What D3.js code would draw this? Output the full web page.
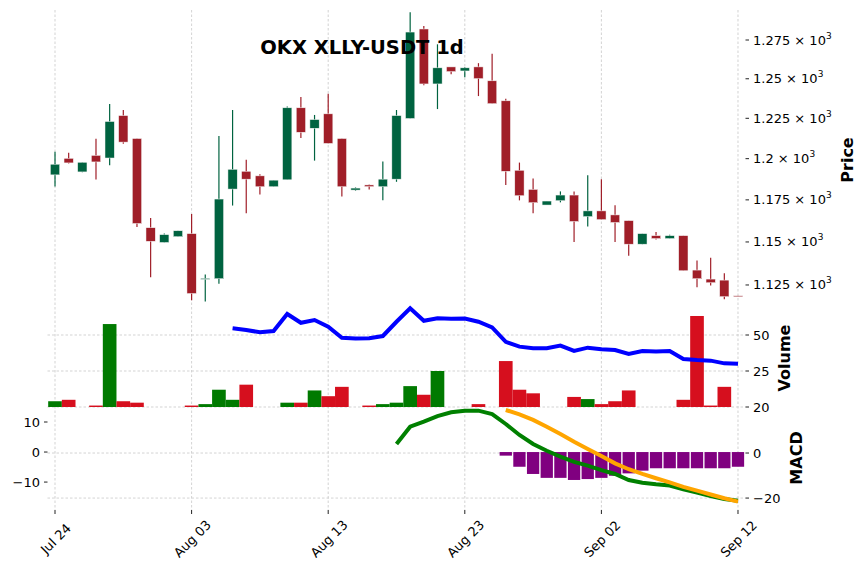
<!DOCTYPE html><html><head><meta charset="utf-8"><script src="https://d3js.org/d3.v7.min.js"></script>
<style>body{margin:0;background:#fff}text{font-family:"DejaVu Sans",sans-serif}</style></head><body><svg id="c" width="866" height="570"></svg>
<script>
const dates = d3.range(51).map(i => new Date(2024, 6, 24 + i));
const opens  = [1190.1,1200.2,1191.9,1202,1200.4,1226.7,1212.4,1158.4,1149.7,1153.1,1154.9,1128.6,1128.6,1181.5,1192.3,1189.5,1182.9,1187.1,1231.6,1218.8,1227.8,1212.4,1180.9,1184,1182.9,1187.5,1224.9,1282.2,1246.7,1257.6,1255,1257.6,1248.7,1236,1192.9,1181.3,1171.9,1174.5,1177.9,1165,1168.4,1166,1162.6,1148.7,1153.7,1152,1153.7,1133.6,1128.4,1127.8,1118.8];
const highs  = [1204.3,1203.7,1198,1212.2,1234,1230.2,1212.4,1164.1,1155,1156.6,1166.6,1131.1,1214,1230.2,1199.4,1190.5,1186.9,1232.4,1238.4,1227.1,1240.4,1212.4,1182.5,1184.2,1198.2,1230.2,1293.2,1284.2,1272.2,1257.6,1257.6,1260,1266,1237.3,1197.6,1187.9,1174.3,1180.1,1180.1,1189.9,1187.5,1171.8,1162.6,1154.9,1155.8,1154.3,1153.7,1139.1,1140.8,1131.7,1118.8];
const lows   = [1183.1,1197,1191.7,1187.3,1196,1209.2,1158.8,1129.4,1149.7,1153.1,1116.3,1115.6,1125.7,1171.6,1167,1178.3,1182.9,1187.1,1212.8,1198.8,1209.4,1177.1,1180.5,1181.3,1174.7,1185.9,1224.9,1245.9,1230.8,1252.9,1251,1239,1234.2,1183.9,1174.7,1167,1171.9,1173.5,1150,1159.1,1163.2,1150,1141.9,1148.7,1151.4,1152,1133.2,1123.7,1124.7,1116.8,1118.5];
const closes = [1196.6,1197.4,1197.8,1198,1223,1210.2,1160.9,1150.4,1154.3,1156.6,1120.1,1128.8,1175.5,1193.5,1187.5,1182.9,1186.9,1231.6,1216.3,1224.2,1209.4,1182.9,1182.1,1183,1187.5,1226.7,1280.2,1246.7,1257,1254.6,1257,1250.1,1234.2,1192.3,1177.5,1173.3,1174.3,1177.9,1162.1,1168.4,1163.2,1161.5,1148.7,1154.9,1152,1153.7,1133.2,1128.6,1126.3,1118.3,1118.5];
const volumes = [20.8,21,null,20.2,57.6,20.8,20.6,null,null,null,20.2,20.4,22.4,21,23.1,null,null,20.6,20.6,22.3,21.5,22.8,null,20.2,20.4,20.6,22.9,21.7,25,null,null,20.4,null,31.9,22.4,21.9,null,null,21.4,21.1,20.4,20.8,22.3,null,null,null,21,63.2,20.2,22.8,null];
const volMA = [null,null,null,null,null,null,null,null,null,null,null,null,null,54.7,53.5,51.9,52.8,64.6,58.5,60.4,55.8,48.1,47.6,47.8,49.3,59.2,68.5,59.9,61.6,61.2,61.4,59.2,55.3,45.3,41.9,40.8,40.8,42.6,38.9,41.2,40.1,39.6,36.8,38.9,38.5,38.9,33.3,32.6,32.2,30.3,30.1];
const macd = [null,null,null,null,null,null,null,null,null,null,null,null,null,null,null,null,null,null,null,null,null,null,null,null,null,4,11.7,13.9,16.4,18.1,18.8,18.8,17.3,12.9,8,4,1,-1.6,-3.9,-5.6,-7.6,-9.3,-12,-13.2,-13.9,-14.4,-16.1,-17.6,-19.1,-20.4,-21.2];
const signal = [null,null,null,null,null,null,null,null,null,null,null,null,null,null,null,null,null,null,null,null,null,null,null,null,null,null,null,null,null,null,null,null,null,19.1,17.2,14.7,11.7,8.4,5,1.8,-1.3,-4.6,-7.2,-9.3,-11.2,-13,-15,-16.7,-18.4,-20.1,-21.6];
const hist = [null,null,null,null,null,null,null,null,null,null,null,null,null,null,null,null,null,null,null,null,null,null,null,null,null,null,null,null,null,null,null,null,null,-1.2,-4.9,-7.3,-8.6,-8.6,-9.3,-9,-8.6,-7.9,-7.1,-6.2,-5.4,-5.4,-5.4,-5.4,-5.4,-5.4,-4.9];
const priceTicks = [1125,1150,1175,1200,1225,1250,1275];
const volTicks = [20,25,50];
const macdLeftTicks = [-10,0,10];
const macdRightTicks = [-20,0];
const xTickIdx = [0,10,20,30,40,50];

const svg = d3.select("#c");
const x = d3.scaleLinear().domain([-0.55,50.55]).range([47.5,745.5]);
const step = x(1)-x(0);
const yP = d3.scaleLog().domain([1116.4,1294.7]).range([300,10]);
const yV = d3.scaleLinear().domain([20,25,50,75]).range([407,371,335,299]);
const yML = d3.scaleLinear().domain([-19.3,14]).range([510,410]);
const yMR = d3.scaleLinear().domain([-25.3,19.1]).range([510,410]);
const fmt = d3.timeFormat("%b %d");
const gridC = "#c8c8c8";

xTickIdx.forEach(i=>{
  svg.append("line").attr("x1",x(i)).attr("x2",x(i)).attr("y1",10).attr("y2",510)
    .attr("stroke",gridC).attr("stroke-width",0.8).attr("stroke-dasharray","2.5,2");
});
volTicks.forEach(v=>svg.append("line").attr("x1",47.5).attr("x2",745.5).attr("y1",yV(v)).attr("y2",yV(v)).attr("stroke",gridC).attr("stroke-width",0.8).attr("stroke-dasharray","2.5,2"));
macdRightTicks.forEach(v=>svg.append("line").attr("x1",47.5).attr("x2",745.5).attr("y1",yMR(v)).attr("y2",yMR(v)).attr("stroke",gridC).attr("stroke-width",0.8).attr("stroke-dasharray","2.5,2"));

const up="#006340", dn="#a01e28";
dates.forEach((d,i)=>{
  const c = closes[i]>=opens[i]?up:dn;
  svg.append("line").attr("x1",x(i)).attr("x2",x(i)).attr("y1",yP(highs[i])).attr("y2",yP(lows[i])).attr("stroke",c).attr("stroke-width",1.2);
  const t=yP(Math.max(opens[i],closes[i])), b=yP(Math.min(opens[i],closes[i]));
  svg.append("rect").attr("x",x(i)-step*0.34).attr("width",step*0.68).attr("y",t).attr("height",Math.max(b-t,1)).attr("fill",c).attr("stroke","#f4f4f4").attr("stroke-width",0.5);
});

volumes.forEach((v,i)=>{
  if(v==null) return;
  const c = closes[i]>=opens[i]?"#007a00":"#d60f1e";
  svg.append("rect").attr("x",x(i)-step/2).attr("width",step).attr("y",yV(v)).attr("height",407-yV(v)).attr("fill",c);
});
const ln = (ys)=>d3.line().defined(d=>d!=null).x((d,i)=>x(i)).y(d=>ys(d));
svg.append("path").attr("d",ln(yV)(volMA)).attr("fill","none").attr("stroke","#0000ff").attr("stroke-width",4);

hist.forEach((v,i)=>{
  if(v==null) return;
  svg.append("rect").attr("x",x(i)-step*0.45).attr("width",step*0.9).attr("y",yML(Math.max(0,v))).attr("height",Math.abs(yML(v)-yML(0))).attr("fill","purple");
});
svg.append("path").attr("d",ln(yMR)(macd)).attr("fill","none").attr("stroke","green").attr("stroke-width",4);
svg.append("path").attr("d",ln(yMR)(signal)).attr("fill","none").attr("stroke","orange").attr("stroke-width",4);

priceTicks.forEach(v=>{
  const y=yP(v);
  svg.append("line").attr("x1",745.5).attr("x2",749).attr("y1",y).attr("y2",y).attr("stroke","#222");
  const t=svg.append("text").attr("x",753).attr("y",y+4.5).attr("font-size",13);
  t.append("tspan").text(d3.format(".3~f")(v/1000)+" × 10");
  t.append("tspan").attr("dy",-6).attr("font-size",9).text("3");
});
volTicks.forEach(v=>{
  const y=yV(v);
  svg.append("line").attr("x1",745.5).attr("x2",749).attr("y1",y).attr("y2",y).attr("stroke","#222");
  svg.append("text").attr("x",753).attr("y",y+4.5).attr("font-size",13).text(v);
});
macdRightTicks.forEach(v=>{
  const y=yMR(v);
  svg.append("line").attr("x1",745.5).attr("x2",749).attr("y1",y).attr("y2",y).attr("stroke","#222");
  svg.append("text").attr("x",753).attr("y",y+4.5).attr("font-size",13).text(v<0?"−"+(-v):v);
});
macdLeftTicks.forEach(v=>{
  const y=yML(v);
  svg.append("line").attr("x1",44).attr("x2",47.5).attr("y1",y).attr("y2",y).attr("stroke","#222");
  svg.append("text").attr("x",40).attr("y",y+4.5).attr("font-size",13).attr("text-anchor","end").text(v<0?"−"+(-v):v);
});
xTickIdx.forEach(i=>{
  svg.append("line").attr("x1",x(i)).attr("x2",x(i)).attr("y1",510).attr("y2",514).attr("stroke","#222");
  svg.append("text").attr("font-size",13).attr("text-anchor","middle")
    .attr("transform",`translate(${x(i)+4},${542}) rotate(-45)`).text(fmt(dates[i]));
});
const lab=(t,cx,cy)=>svg.append("text").attr("transform",`translate(${cx},${cy}) rotate(-90)`).attr("text-anchor","middle").attr("font-size",16).attr("font-weight","bold").text(t);
lab("Price",853,160); lab("Volume",790,358); lab("MACD",802,458);
svg.append("text").attr("x",362).attr("y",54).attr("text-anchor","middle").attr("font-size",19.5).attr("font-weight","bold").text("OKX XLLY-USDT 1d");
</script></body></html>
